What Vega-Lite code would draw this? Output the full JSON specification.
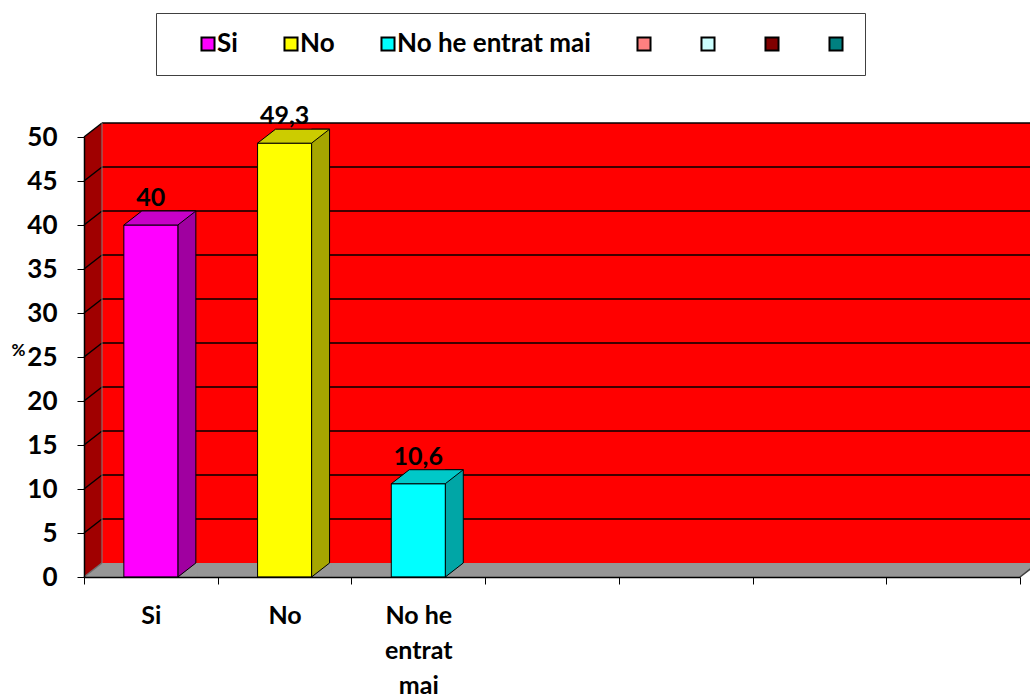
{
  "$schema": "https://vega.github.io/schema/vega-lite/v6.json",
  "width": 936,
  "height": 440,
  "autosize": {"type": "none"},
  "padding": {"left": 84, "top": 137, "right": 10, "bottom": 120},
  "background": "white",
  "config": {
    "view": {"stroke": null},
    "font": "Lato",
    "locale": {"number": {"decimal": ",", "thousands": ".", "grouping": [3], "currency": ["", " €"]}}
  },
  "datasets": {
    "bars": [
      {"cat": "Si", "pct": 40},
      {"cat": "No", "pct": 49.3},
      {"cat": "No he entrat mai", "pct": 10.6}
    ],
    "frame": [{"lo": 0, "hi": 50}],
    "grid": [{"v": 5}, {"v": 10}, {"v": 15}, {"v": 20}, {"v": 25}, {"v": 30}, {"v": 35}, {"v": 40}, {"v": 45}, {"v": 50}],
    "diag": [{"v": 0}, {"v": 5}, {"v": 10}, {"v": 15}, {"v": 20}, {"v": 25}, {"v": 30}, {"v": 35}, {"v": 40}, {"v": 45}, {"v": 50}],
    "anchor": [{"v": 0}]
  },
  "layer": [
    {
      "data": {"name": "frame"},
      "mark": {"type": "rect", "fill": "#FF0000", "opacity": 1, "xOffset": 18, "x2Offset": 18, "yOffset": -14, "y2Offset": -14},
      "encoding": {
        "x": {
          "datum": "Si", "bandPosition": 0, "type": "nominal",
          "scale": {"type": "band", "domain": ["Si", "No", "No he entrat mai", "c4", "c5", "c6", "c7"], "paddingInner": 0, "paddingOuter": 0},
          "axis": {
            "title": null, "tickBand": "extent", "tickSize": 7, "tickColor": "black", "tickWidth": 1,
            "domainColor": "black", "domainWidth": 1.5, "labelFontSize": 25, "labelFont": "Lato", "labelFontWeight": "bold",
            "labelColor": "black", "labelAngle": 0, "labelPadding": 19, "labelLineHeight": 35, "labelBaseline": "top",
            "labelExpr": "datum.value == 'No he entrat mai' ? ['No he', 'entrat', 'mai'] : ((datum.value == 'Si' || datum.value == 'No') ? datum.value : '')",
            "zindex": 1
          }
        },
        "x2": {"datum": "c7", "bandPosition": 1},
        "y": {
          "field": "hi", "type": "quantitative",
          "scale": {"domain": [0, 50], "nice": false, "zero": true},
          "axis": {
            "values": [0, 5, 10, 15, 20, 25, 30, 35, 40, 45, 50], "grid": false, "tickSize": 7, "tickColor": "black",
            "domainColor": "black", "domainWidth": 1.5, "labelFontSize": 26, "labelFont": "Lato", "labelFontWeight": "bold",
            "labelColor": "black", "labelPadding": 20,
            "title": "%", "titleAngle": 0, "titleX": -66, "titleY": 213, "titleFontSize": 17, "titleFont": "Lato",
            "titleFontWeight": "bold", "titleColor": "black", "titleAlign": "center", "titleBaseline": "middle",
            "zindex": 1
          }
        },
        "y2": {"field": "lo"}
      }
    },
    {
      "data": {"name": "anchor"},
      "mark": {"type": "rect", "fill": "#969696", "opacity": 1, "x2Offset": 18, "yOffset": -14},
      "encoding": {
        "x": {"datum": "Si", "bandPosition": 0},
        "x2": {"datum": "c7", "bandPosition": 1},
        "y": {"datum": 0},
        "y2": {"datum": 0}
      }
    },
    {
      "data": {"name": "frame"},
      "mark": {"type": "rect", "fill": "#A00000", "opacity": 1, "x2Offset": 18, "yOffset": -14},
      "encoding": {
        "x": {"datum": "Si", "bandPosition": 0},
        "x2": {"datum": "Si", "bandPosition": 0},
        "y": {"field": "hi", "type": "quantitative"},
        "y2": {"field": "lo"}
      }
    },
    {
      "data": {"name": "frame"},
      "mark": {"type": "point", "shape": "M-1,1L-1,-15L19.5,-15Z", "size": 4, "filled": true, "fill": "white", "strokeWidth": 0, "opacity": 1},
      "encoding": {
        "x": {"datum": "Si", "bandPosition": 0},
        "y": {"field": "hi", "type": "quantitative"}
      }
    },
    {
      "data": {"name": "anchor"},
      "mark": {"type": "point", "shape": "M0,0L18,-14L19,-14L19,0Z", "size": 4, "filled": true, "fill": "#969696", "strokeWidth": 0, "opacity": 1},
      "encoding": {
        "x": {"datum": "Si", "bandPosition": 0},
        "y": {"datum": 0}
      }
    },
    {
      "data": {"name": "anchor"},
      "mark": {"type": "point", "shape": "M0,0.5L18,-14L22,-14L22,0.5Z", "size": 4, "filled": true, "fill": "white", "strokeWidth": 0, "opacity": 1},
      "encoding": {
        "x": {"datum": "c7", "bandPosition": 1},
        "y": {"datum": 0}
      }
    },
    {
      "data": {"name": "grid"},
      "mark": {"type": "rule", "stroke": "black", "strokeWidth": 1.5, "opacity": 1, "xOffset": 18, "x2Offset": 18, "yOffset": -14},
      "encoding": {
        "x": {"datum": "Si", "bandPosition": 0},
        "x2": {"datum": "c7", "bandPosition": 1},
        "y": {"field": "v", "type": "quantitative"}
      }
    },
    {
      "data": {"name": "diag"},
      "mark": {"type": "rule", "strokeWidth": 1.5, "opacity": 1, "x2Offset": 18, "y2Offset": -14},
      "encoding": {
        "x": {"datum": "Si", "bandPosition": 0},
        "x2": {"datum": "Si", "bandPosition": 0},
        "y": {"field": "v", "type": "quantitative"},
        "y2": {"field": "v"},
        "stroke": {"condition": {"test": "datum.v == 0", "value": "#707070"}, "value": "black"}
      }
    },
    {
      "data": {"name": "frame"},
      "mark": {"type": "rule", "stroke": "#808080", "strokeWidth": 1, "opacity": 1, "xOffset": 18, "yOffset": -14, "y2Offset": -14},
      "encoding": {
        "x": {"datum": "Si", "bandPosition": 0},
        "y": {"field": "hi", "type": "quantitative"},
        "y2": {"field": "lo"}
      }
    },
    {
      "data": {"name": "anchor"},
      "mark": {"type": "rule", "stroke": "#404040", "strokeWidth": 1.5, "opacity": 1, "x2Offset": 18, "y2Offset": -14},
      "encoding": {
        "x": {"datum": "c7", "bandPosition": 1},
        "x2": {"datum": "c7", "bandPosition": 1},
        "y": {"datum": 0},
        "y2": {"datum": 0}
      }
    },
    {
      "data": {"name": "bars"},
      "mark": {"type": "bar", "width": 18, "xOffset": 36, "yOffset": -14, "stroke": "black", "strokeWidth": 1, "opacity": 1},
      "encoding": {
        "x": {"field": "cat", "type": "nominal"},
        "y": {"field": "pct", "type": "quantitative"},
        "y2": {"datum": 0},
        "fill": {
          "condition": [
            {"test": "datum.cat == 'Si'", "value": "#A000A0"},
            {"test": "datum.cat == 'No'", "value": "#A6A600"}
          ],
          "value": "#00A6A6"
        }
      }
    },
    {
      "data": {"name": "bars"},
      "mark": {"type": "point", "shape": "M27.5,0L45,-14L46.5,-14L46.5,0.5L27.5,0.5Z", "size": 4, "filled": true, "fill": "#969696", "strokeWidth": 0, "opacity": 1},
      "encoding": {
        "x": {"field": "cat", "type": "nominal"},
        "y": {"datum": 0}
      }
    },
    {
      "data": {"name": "bars"},
      "mark": {"type": "point", "shape": "M27,0L45,-14", "size": 4, "filled": false, "stroke": "black", "strokeWidth": 1, "opacity": 1},
      "encoding": {
        "x": {"field": "cat", "type": "nominal"},
        "y": {"datum": 0}
      }
    },
    {
      "data": {"name": "bars"},
      "mark": {"type": "bar", "width": 54, "stroke": "black", "strokeWidth": 1, "opacity": 1},
      "encoding": {
        "x": {"field": "cat", "type": "nominal"},
        "y": {"field": "pct", "type": "quantitative"},
        "y2": {"datum": 0},
        "color": {
          "field": "cat", "type": "nominal",
          "scale": {"domain": ["Si", "No", "No he entrat mai", "c4", "c5", "c6", "c7"], "range": ["#FF00FF", "#FFFF00", "#00FFFF", "#FF8080", "#CCFFFF", "#800000", "#008080"]},
          "legend": {
            "orient": "none", "legendX": 72, "legendY": -124, "direction": "horizontal", "columns": 7,
            "title": " ", "titleOrient": "left", "titlePadding": 21, "titleFontSize": 26,
            "padding": 18, "strokeColor": "#404040", "fillColor": "white",
            "symbolType": "square", "symbolSize": 170, "symbolStrokeColor": "black", "symbolStrokeWidth": 2, "symbolOpacity": 1,
            "labelFont": "Lato", "labelFontSize": 26, "labelFontWeight": "bold", "labelColor": "black", "labelOffset": -4,
            "labelLimit": 0, "columnPadding": 40,
            "labelExpr": "datum.label == 'c7' ? '\u00a0\u00a0\u00a0\u00a0' : (indexof(['c4', 'c5', 'c6'], datum.label) >= 0 ? ' ' : datum.label)"
          }
        }
      }
    },
    {
      "data": {"name": "bars"},
      "mark": {"type": "point", "shape": "M-27,0L27,0L45,-14L-9,-14Z", "size": 4, "filled": true, "stroke": "black", "strokeWidth": 1, "opacity": 1},
      "encoding": {
        "x": {"field": "cat", "type": "nominal"},
        "y": {"field": "pct", "type": "quantitative"},
        "fill": {
          "condition": [
            {"test": "datum.cat == 'Si'", "value": "#C800C8"},
            {"test": "datum.cat == 'No'", "value": "#CCCC00"}
          ],
          "value": "#00C8C8"
        }
      }
    },
    {
      "data": {"name": "bars"},
      "mark": {"type": "text", "dy": -19, "baseline": "alphabetic", "align": "center", "font": "Lato", "fontSize": 25, "fontWeight": "bold", "fill": "black"},
      "encoding": {
        "x": {"field": "cat", "type": "nominal"},
        "y": {"field": "pct", "type": "quantitative"},
        "text": {"field": "pct", "type": "quantitative", "format": ".1~f"}
      }
    }
  ]
}
